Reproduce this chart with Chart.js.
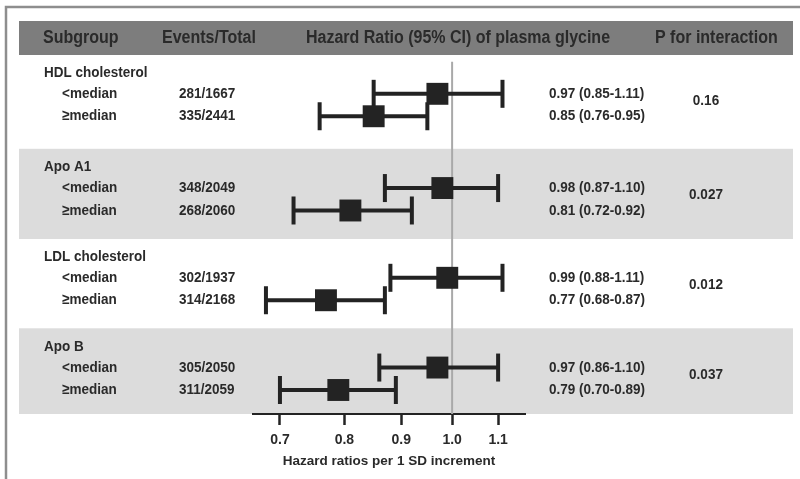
<!DOCTYPE html>
<html><head><meta charset="utf-8">
<script src="https://cdn.jsdelivr.net/npm/chart.js@4.4.1/dist/chart.umd.min.js"></script>
<style>html,body{margin:0;padding:0;background:#fff;}#wrap{width:800px;height:479px;position:relative}</style>
</head><body><div id="wrap"><canvas id="c" width="800" height="479"></canvas></div>
<script>
// ---- data ----
const groups = ['HDL cholesterol', 'Apo A1', 'LDL cholesterol', 'Apo B'];
const subgroups = ['<median', '≥median'];
const events = [['281/1667', '335/2441'], ['348/2049', '268/2060'], ['302/1937', '314/2168'], ['305/2050', '311/2059']];
const hr = [[0.97, 0.85], [0.98, 0.81], [0.99, 0.77], [0.97, 0.79]];
const ciLow = [[0.85, 0.76], [0.87, 0.72], [0.88, 0.68], [0.86, 0.70]];
const ciHigh = [[1.11, 0.95], [1.10, 0.92], [1.11, 0.87], [1.10, 0.89]];
const pInteraction = ['0.16', '0.027', '0.012', '0.037'];
const xTicks = [0.7, 0.8, 0.9, 1.0, 1.1];
const headers = ['Subgroup', 'Events/Total', 'Hazard Ratio (95% CI) of plasma glycine', 'P for interaction'];
const axisTitle = 'Hazard ratios per 1 SD increment';

// ---- layout (row slots on the y scale) ----
const groupSlot = [0.8, 5.0, 9.0, 13.0];
const subOffset = [0.93, 1.93];
const pOffset = 1.25;
const shadedGroups = [1, 3];

const FONT = "'Liberation Sans', Arial, sans-serif";
const INK = '#2a2a2a';
const MARK = '#232323';

const datasets = [];
datasets.push({
  data: [{x: 1.0, y: 0.3}, {x: 1.0, y: 16}],
  showLine: true, borderColor: '#a9a9a9', borderWidth: 2, pointRadius: 0, order: 3
});
groups.forEach((g, gi) => {
  subgroups.forEach((s, si) => {
    const y = groupSlot[gi] + subOffset[si];
    datasets.push({
      data: [{x: ciLow[gi][si], y}, {x: ciHigh[gi][si], y}],
      showLine: true, borderColor: MARK, borderWidth: 4,
      pointStyle: 'line', pointRotation: 90, pointRadius: 14,
      pointBorderWidth: 4, pointBorderColor: MARK, pointBackgroundColor: MARK, order: 2
    });
  });
});
const squares = [];
groups.forEach((g, gi) => subgroups.forEach((s, si) => squares.push({x: hr[gi][si], y: groupSlot[gi] + subOffset[si]})));
datasets.push({
  data: squares, pointStyle: 'rect', pointRadius: 15.5, backgroundColor: MARK,
  borderWidth: 0, pointBorderWidth: 0, order: 0
});

function txt(c, t, x, y, align) {
  c.save();
  c.translate(x, y);
  c.scale(1, 1.1);
  c.textAlign = align;
  c.fillText(t, 0, 0);
  c.restore();
}

const tablePlugin = {
  id: 'table',
  beforeDraw(chart) {
    const c = chart.ctx, W = chart.width, H = chart.height, ys = chart.scales.y;
    c.save();
    c.fillStyle = '#fff'; c.fillRect(0, 0, W, H);
    c.strokeStyle = '#8e8e8e'; c.lineWidth = 2.5;
    c.beginPath(); c.moveTo(6, H); c.lineTo(6, 7); c.lineTo(W, 7); c.stroke();
    c.fillStyle = '#7d7d7d'; c.fillRect(19, 21, 774, 34);
    c.fillStyle = '#dcdcdc';
    shadedGroups.forEach(gi => {
      const top = ys.getPixelForValue(groupSlot[gi] - 0.82);
      const bot = ys.getPixelForValue(Math.min(16, groupSlot[gi] + 3.2));
      c.fillRect(19, top, 774, bot - top);
    });
    c.restore();
  },
  beforeDatasetsDraw(chart) {
    const c = chart.ctx, ys = chart.scales.y;
    c.save();
    c.fillStyle = INK; c.textBaseline = 'middle';
    c.font = 'bold 16px ' + FONT;
    txt(c, headers[0], 43, 38, 'left');
    txt(c, headers[1], 162, 38, 'left');
    txt(c, headers[2], 458, 38, 'center');
    txt(c, headers[3], 655, 38, 'left');
    c.font = 'bold 13.5px ' + FONT;
    groups.forEach((g, gi) => {
      txt(c, g, 44, ys.getPixelForValue(groupSlot[gi]), 'left');
      subgroups.forEach((s, si) => {
        const y = ys.getPixelForValue(groupSlot[gi] + subOffset[si]);
        txt(c, s, 62, y, 'left');
        txt(c, events[gi][si], 179, y, 'left');
        txt(c, hr[gi][si].toFixed(2) + ' (' + ciLow[gi][si].toFixed(2) + '-' + ciHigh[gi][si].toFixed(2) + ')', 549, y, 'left');
      });
      txt(c, pInteraction[gi], 706, ys.getPixelForValue(groupSlot[gi] + pOffset), 'center');
    });
    c.restore();
  }
};

new Chart(document.getElementById('c'), {
  type: 'scatter',
  data: {datasets},
  options: {
    responsive: false, animation: false,
    layout: {padding: {top: 55, left: 253, right: 275, bottom: 0}},
    plugins: {legend: {display: false}, tooltip: {enabled: false}},
    scales: {
      x: {
        type: 'logarithmic', min: 0.662, max: 1.163,
        afterBuildTicks: s => { s.ticks = xTicks.map(v => ({value: v})); },
        afterFit: s => { s.height = 65; },
        ticks: {callback: v => Number(v).toFixed(1), color: INK, font: {family: FONT, size: 14, weight: 'bold'}, padding: 7, maxRotation: 0, autoSkip: false},
        grid: {drawOnChartArea: false, drawTicks: true, tickLength: 11, tickColor: MARK, tickWidth: 2.5},
        border: {display: true, color: MARK, width: 2},
        title: {display: true, text: axisTitle, color: INK, font: {family: FONT, size: 13.5, weight: 'bold'}, padding: {top: 0, bottom: 10}}
      },
      y: {type: 'linear', display: false, min: 0, max: 16, reverse: true}
    }
  },
  plugins: [tablePlugin]
});
</script></body></html>
